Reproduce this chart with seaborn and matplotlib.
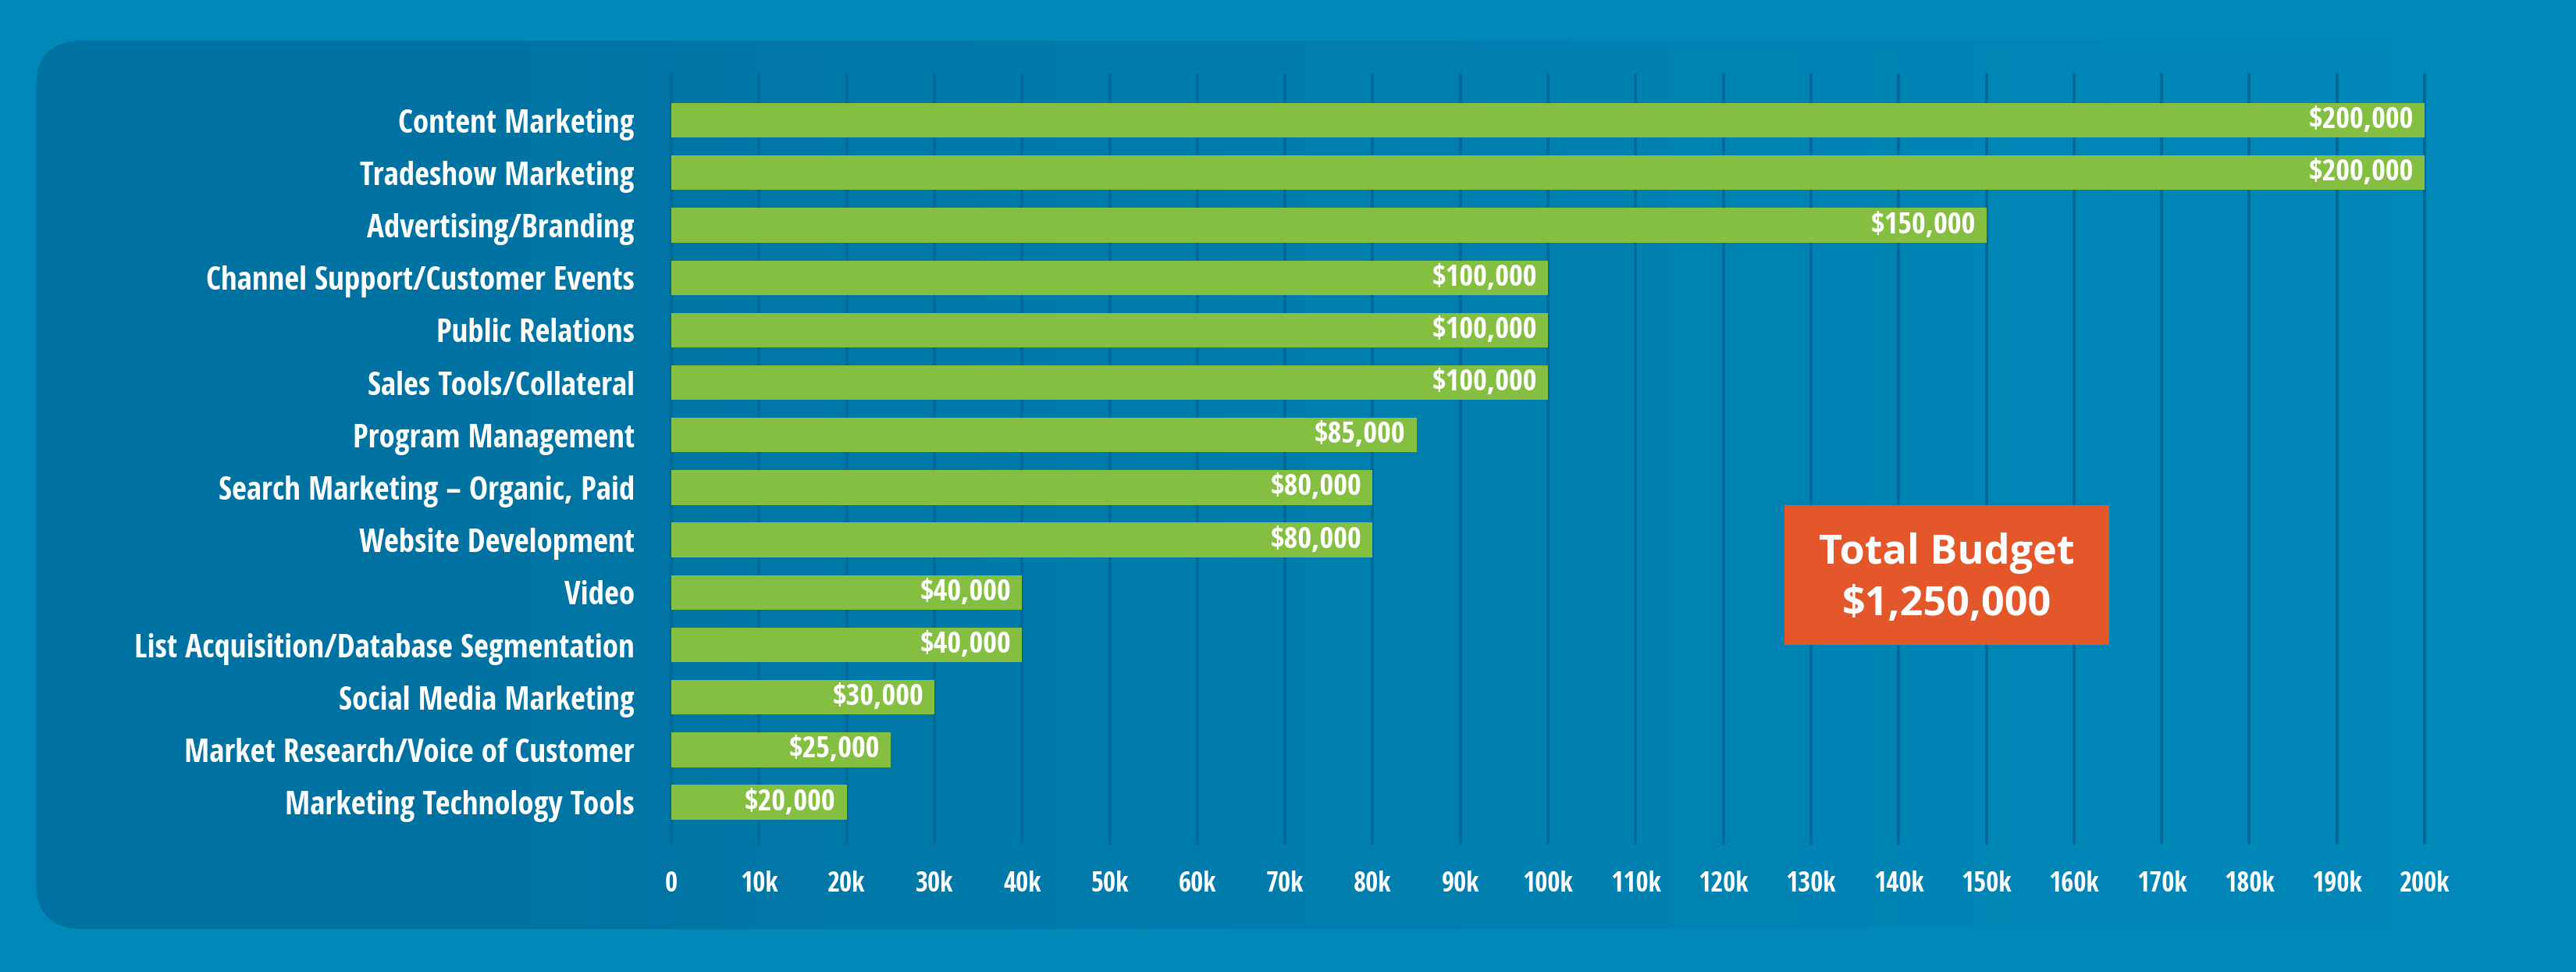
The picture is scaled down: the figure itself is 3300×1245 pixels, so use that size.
#%% modules
import numpy as np
import pandas as pd
import seaborn as sns
import matplotlib.pyplot as plt
from matplotlib.patches import FancyBboxPatch, Rectangle
from matplotlib.colors import to_rgb

#%% data
categories = ["Content Marketing", "Tradeshow Marketing", "Advertising/Branding",
              "Channel Support/Customer Events", "Public Relations", "Sales Tools/Collateral",
              "Program Management", "Search Marketing \u2013 Organic, Paid", "Website Development",
              "Video", "List Acquisition/Database Segmentation", "Social Media Marketing",
              "Market Research/Voice of Customer", "Marketing Technology Tools"]
budget = [200000, 200000, 150000, 100000, 100000, 100000, 85000, 80000, 80000,
          40000, 40000, 30000, 25000, 20000]
value_labels = ["$200,000", "$200,000", "$150,000", "$100,000", "$100,000", "$100,000",
                "$85,000", "$80,000", "$80,000", "$40,000", "$40,000", "$30,000",
                "$25,000", "$20,000"]
tick_values = list(range(0, 200001, 10000))
tick_labels = ["0"] + [f"{k}k" for k in range(10, 201, 10)]
total_text = ["Total Budget", "$1,250,000"]

df = pd.DataFrame({"category": categories, "budget": budget})

#%% colours
bg_col = "#0088b9"
panel_col = "#0072a1"
grid_col = "#006a98"
bar_col = "#84bf41"
box_col = "#e4572a"

sns.set_style("white")
plt.rcParams["font.family"] = ["Open Sans Condensed", "DejaVu Sans"]
plt.rcParams["font.weight"] = "bold"

fig = plt.figure(figsize=(33, 12.45), dpi=100, facecolor=bg_col)

#%% background panel with gradient fading to the right
bg = fig.add_axes([0, 0, 1, 1], zorder=0)
bg.set_xlim(0, 3300)
bg.set_ylim(1245, 0)
bg.axis("off")
panel = FancyBboxPatch((46, 52), 3150, 1138, boxstyle="round,pad=0,rounding_size=60",
                       facecolor="none", edgecolor="none")
bg.add_patch(panel)
xs = np.linspace(0, 3300, 800)
alpha = np.clip(1 - (xs - 500) / 2600, 0, 1) ** 1.3
grad = np.zeros((2, len(xs), 4))
grad[..., :3] = to_rgb(panel_col)
grad[..., 3] = alpha
im = bg.imshow(grad, extent=[0, 3300, 1245, 0], aspect="auto")
im.set_clip_path(panel)

#%% bar chart
ax = fig.add_axes([860 / 3300, 1 - 1080 / 1245, 2246 / 3300, 985 / 1245], zorder=1)
ax.patch.set_alpha(0)
sns.barplot(data=df, x="budget", y="category", orient="h", color=bar_col,
            saturation=1, width=0.66, linewidth=0, ax=ax)
ax.set_xlim(0, 200000)
ax.set_ylim(13.78, -0.88)
ax.set_xticks(tick_values)
ax.set_xticklabels(tick_labels, fontsize=25, color="white", fontweight="bold")
ax.set_yticks(range(len(categories)))
ax.set_yticklabels(categories, fontsize=29.5, color="white", fontweight="bold")
ax.tick_params(axis="x", length=0, pad=25)
ax.tick_params(axis="y", length=0, pad=34)
ax.set_xlabel("")
ax.set_ylabel("")
ax.grid(axis="x", color=grid_col, linewidth=2.8)
ax.grid(axis="y", visible=False)
ax.set_axisbelow(True)
for gl in ax.get_xgridlines():
    gl.set_clip_on(False)
for s in ax.spines.values():
    s.set_visible(False)

for p, lab in zip(ax.patches, value_labels):
    ax.annotate(lab, xy=(p.get_width(), p.get_y() + p.get_height() / 2),
                xytext=(-10, 0), textcoords="offset points", ha="right", va="center",
                fontsize=27.5, color="white", fontweight="bold")

#%% total budget box
ax.add_patch(Rectangle((0.635, 0.258), 0.185, 0.182, transform=ax.transAxes,
                       facecolor=box_col, edgecolor="none", zorder=3))
ax.text(0.7273, 0.3635, total_text[0], transform=ax.transAxes, ha="center", va="baseline",
        fontsize=37.5, color="white", fontweight="bold", family=["Open Sans", "DejaVu Sans"], zorder=4)
ax.text(0.7273, 0.2964, total_text[1], transform=ax.transAxes, ha="center", va="baseline",
        fontsize=37.5, color="white", fontweight="bold", family=["Open Sans", "DejaVu Sans"], zorder=4)

fig.savefig("out.png", dpi=100, facecolor=bg_col)
